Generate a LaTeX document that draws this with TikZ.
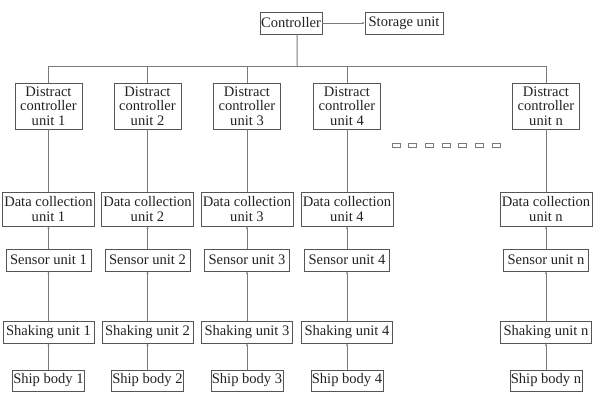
\documentclass[tikz,border=0pt]{standalone}
\usepackage{fontspec}
\setmainfont{Liberation Serif}
\usetikzlibrary{arrows.meta}
\definecolor{edgegray}{HTML}{7A7A7A}
\definecolor{boxgray}{HTML}{555555}
\definecolor{textgray}{HTML}{222222}
\begin{document}
\begin{tikzpicture}[x=1bp,y=-1bp,
  box/.style={draw=boxgray,line width=0.9bp,fill=white,inner sep=0pt,align=center,
    text=textgray,font=\fontsize{14.6}{14.4}\selectfont},
  link/.style={draw=edgegray,line width=1bp},
  uplink/.style={link,-{Stealth[length=2.5bp,width=2bp]}},
  dotbox/.style={draw=edgegray,line width=0.8bp}]
\useasboundingbox (0,0) rectangle (593,392);

% top level
\node[box,minimum width=62bp,minimum height=22bp] (ctrl) at (291,23) {Controller};
\node[box,minimum width=78bp,minimum height=22bp] (store) at (404,23) {Storage unit};
\draw[link,-{Stealth[length=2.5bp,width=2bp]}] (ctrl) -- (store);

% one column per unit
\foreach \k/\cx in {1/48.5,2/147.5,3/247,4/347,n/546}{
  \node[box,minimum width=67bp,minimum height=46bp] (dc\k) at (\cx,106)
    {Distract\\controller\\unit \k};
  \node[box,minimum width=92bp,minimum height=34bp] (dat\k) at (\cx,209)
    {Data collection\\unit \k};
  \node[box,minimum width=85bp,minimum height=22bp] (sen\k) at (\cx,260) {Sensor unit \k};
  \node[box,minimum width=91bp,minimum height=22bp] (shk\k) at (\cx,332) {Shaking unit \k};
  \node[box,minimum width=72bp,minimum height=21bp] (shp\k) at (\cx,380.5) {Ship body \k};
  \draw[link] (dc\k) -- (dat\k);
  \draw[uplink] (sen\k) -- (dat\k);
  \draw[uplink] (shk\k) -- (sen\k);
  \draw[uplink] (shp\k) -- (shk\k);
}

% bus from the controller to the distract controller units
\coordinate (bus) at (297,66);
\draw[link] ([xshift=6bp]ctrl.south) -- (bus);
\draw[link] (dc1.north) -- (dc1.north |- bus) -- (dcn.north |- bus) -- (dcn.north);
\foreach \k in {2,3,4}{
  \draw[link] (dc\k.north) -- (dc\k.north |- bus);
}

% ellipsis between unit 4 and unit n
\foreach \i in {0,...,6}{
  \draw[dotbox] ({392+\i*16.7},143) rectangle ++(8,4);
}
\end{tikzpicture}
\end{document}
